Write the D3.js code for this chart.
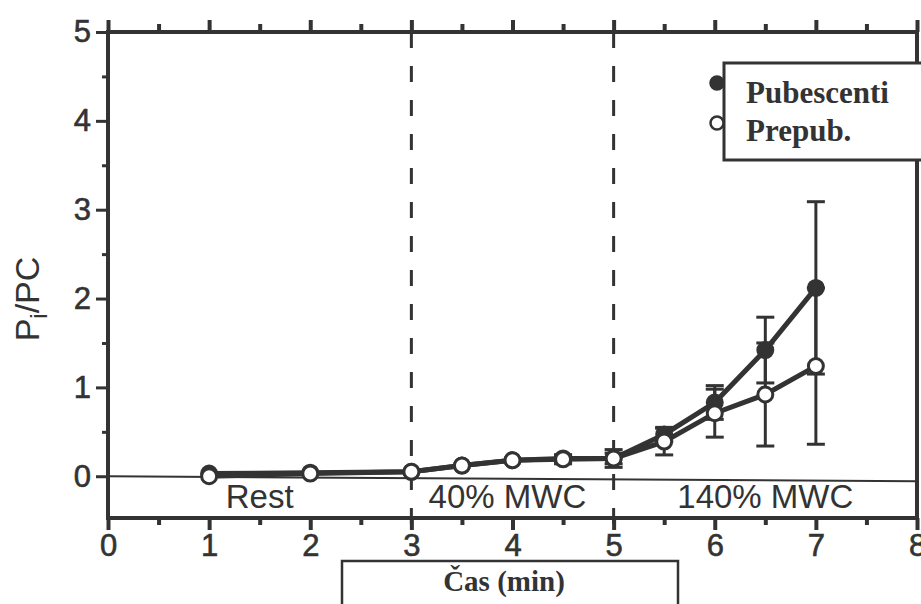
<!DOCTYPE html>
<html>
<head>
<meta charset="utf-8">
<script src="https://cdn.jsdelivr.net/npm/d3@7"></script>
<style>
  body { margin: 0; background: #fff; }
  svg { display: block; }
  .tick text { font-family: "Liberation Sans", Arial, sans-serif; font-size: 31px; fill: #333; stroke: #333; stroke-width: 0.6px; }
</style>
</head>
<body>
<div id="chart"></div>
<script>
const times = [1, 2, 3, 3.5, 4, 4.5, 5, 5.5, 6, 6.5, 7];
const pubescenti = [0.03, 0.04, 0.05, 0.12, 0.18, 0.2, 0.2, 0.47, 0.83, 1.42, 2.12];
const pubescentiErr = [0, 0, 0, 0, 0, 0.04, 0.06, 0.08, 0.19, 0.37, 0.97];
const prepub = [0, 0.03, 0.05, 0.12, 0.18, 0.19, 0.2, 0.39, 0.71, 0.92, 1.24];
const prepubErr = [0, 0, 0, 0, 0, 0.05, 0.1, 0.15, 0.27, 0.58, 0.88];
const phases = [
  { label: "Rest", x: 1.5 },
  { label: "40% MWC", x: 3.95 },
  { label: "140% MWC", x: 6.5 }
];
const phaseBounds = [3, 5];
const xTicks = [0, 1, 2, 3, 4, 5, 6, 7, 8];
const yTicks = [0, 1, 2, 3, 4, 5];

const W = 921, H = 604;
const ink = "#333";

const svg = d3.select("#chart").append("svg")
  .attr("width", W).attr("height", H);

const x = d3.scaleLinear().domain([0, 8]).range([108, 917]);
const y = d3.scaleLinear().domain([-0.47, 5]).range([518, 32]);

const minorX = d3.range(0.5, 8, 1);
const minorY = [0.5, 1.5, 2.5, 3.5, 4.5];

svg.append("g")
  .attr("transform", `translate(0,${y(-0.47)})`)
  .call(d3.axisBottom(x).tickValues(xTicks).tickSize(12).tickPadding(4).tickFormat(d3.format("d")))
  .call(g => g.select(".domain").remove())
  .call(g => g.selectAll("line").attr("stroke", ink).attr("stroke-width", 4));
svg.append("g")
  .attr("transform", `translate(0,${y(-0.47)})`)
  .call(d3.axisBottom(x).tickValues(minorX).tickSize(7).tickFormat(""))
  .call(g => g.select(".domain").remove())
  .call(g => g.selectAll("line").attr("stroke", ink).attr("stroke-width", 4));

svg.append("g")
  .attr("transform", `translate(0,${y(5)})`)
  .call(d3.axisTop(x).tickValues(xTicks).tickSize(12).tickFormat(""))
  .call(g => g.select(".domain").remove())
  .call(g => g.selectAll("line").attr("stroke", ink).attr("stroke-width", 4));
svg.append("g")
  .attr("transform", `translate(0,${y(5)})`)
  .call(d3.axisTop(x).tickValues(minorX).tickSize(8).tickFormat(""))
  .call(g => g.select(".domain").remove())
  .call(g => g.selectAll("line").attr("stroke", ink).attr("stroke-width", 4));

svg.append("g")
  .attr("transform", `translate(${x(0)},0)`)
  .call(d3.axisLeft(y).tickValues(yTicks).tickSize(12).tickPadding(5).tickFormat(d3.format("d")))
  .call(g => g.select(".domain").remove())
  .call(g => g.selectAll("line").attr("stroke", ink).attr("stroke-width", 3));
svg.append("g")
  .attr("transform", `translate(${x(0)},0)`)
  .call(d3.axisLeft(y).tickValues(minorY).tickSize(6).tickFormat(""))
  .call(g => g.select(".domain").remove())
  .call(g => g.selectAll("line").attr("stroke", ink).attr("stroke-width", 3));

// frame
svg.append("rect")
  .attr("x", x(0)).attr("y", y(5))
  .attr("width", x(8) - x(0)).attr("height", y(-0.47) - y(5))
  .attr("fill", "none").attr("stroke", ink).attr("stroke-width", 4);

// zero line
svg.append("line")
  .attr("x1", x(0)).attr("x2", x(8))
  .attr("y1", y(0)).attr("y2", y(0) + 5)
  .attr("stroke", ink).attr("stroke-width", 2);

// phase boundaries
svg.selectAll(".phase-line")
  .data(phaseBounds)
  .enter().append("line")
  .attr("x1", d => x(d)).attr("x2", d => x(d))
  .attr("y1", y(5)).attr("y2", y(-0.47) + 8)
  .attr("stroke", ink).attr("stroke-width", 3)
  .attr("stroke-dasharray", "16,18");

svg.selectAll(".phase-label")
  .data(phases)
  .enter().append("text")
  .attr("x", d => x(d.x)).attr("y", 508)
  .attr("text-anchor", "middle")
  .attr("font-family", "Liberation Sans, Arial, sans-serif")
  .attr("font-size", 33)
  .attr("fill", ink)
  .text(d => d.label);

// series
const series = [
  { name: "Pubescenti", vals: pubescenti, err: pubescentiErr, fill: ink },
  { name: "Prepub.", vals: prepub, err: prepubErr, fill: "#fff" }
];

const line = d3.line().x(d => x(d[0])).y(d => y(d[1]));

series.forEach(s => {
  const pts = times.map((t, i) => [t, s.vals[i], s.err[i]]);
  const eb = svg.append("g");
  pts.filter(p => p[2] > 0).forEach(p => {
    eb.append("line")
      .attr("x1", x(p[0])).attr("x2", x(p[0]))
      .attr("y1", y(p[1] - p[2])).attr("y2", y(p[1] + p[2]))
      .attr("stroke", ink).attr("stroke-width", 3);
    [p[1] - p[2], p[1] + p[2]].forEach(v => {
      eb.append("line")
        .attr("x1", x(p[0]) - 9).attr("x2", x(p[0]) + 9)
        .attr("y1", y(v)).attr("y2", y(v))
        .attr("stroke", ink).attr("stroke-width", 3);
    });
  });
});

series.forEach(s => {
  const pts = times.map((t, i) => [t, s.vals[i]]);
  svg.append("path")
    .datum(pts)
    .attr("fill", "none")
    .attr("stroke", ink)
    .attr("stroke-width", 5)
    .attr("d", line);
});

series.forEach(s => {
  svg.append("g").selectAll("circle")
    .data(times.map((t, i) => [t, s.vals[i]]))
    .enter().append("circle")
    .attr("cx", d => x(d[0])).attr("cy", d => y(d[1]))
    .attr("r", 7.5)
    .attr("fill", s.fill)
    .attr("stroke", ink)
    .attr("stroke-width", 3);
});

// legend
const legend = svg.append("g");
legend.append("rect")
  .attr("x", 724).attr("y", 63).attr("width", 200).attr("height", 97)
  .attr("fill", "#fff").attr("stroke", ink).attr("stroke-width", 3);
series.forEach((s, i) => {
  legend.append("circle")
    .attr("cx", 717).attr("cy", 83 + i * 40)
    .attr("r", 6.5)
    .attr("fill", s.fill).attr("stroke", ink).attr("stroke-width", 2.5);
  legend.append("text")
    .attr("x", 746).attr("y", 103 + i * 38)
    .attr("font-family", "Liberation Serif, Times New Roman, serif")
    .attr("font-weight", "bold")
    .attr("font-size", 31)
    .attr("fill", ink)
    .text(s.name);
});

// y label
svg.append("text")
  .attr("transform", `translate(39,299) rotate(-90)`)
  .attr("text-anchor", "middle")
  .attr("font-family", "Liberation Sans, Arial, sans-serif")
  .attr("font-size", 34)
  .attr("fill", ink)
  .call(t => {
    t.append("tspan").text("P");
    t.append("tspan").attr("font-size", 24).attr("dy", 8).text("i");
    t.append("tspan").attr("dy", -8).text("/PC");
  });

// x label box
svg.append("rect")
  .attr("x", 342).attr("y", 561).attr("width", 336).attr("height", 60)
  .attr("fill", "#fff").attr("stroke", ink).attr("stroke-width", 2.5);
svg.append("text")
  .attr("x", 504).attr("y", 591)
  .attr("text-anchor", "middle")
  .attr("font-family", "Liberation Serif, Times New Roman, serif")
  .attr("font-weight", "bold")
  .attr("font-size", 29)
  .attr("fill", ink)
  .text("Čas (min)");
</script>
</body>
</html>
